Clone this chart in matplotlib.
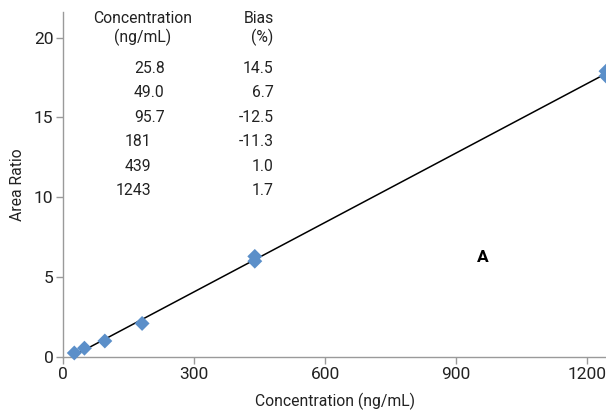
import numpy as np
import matplotlib
matplotlib.use('Agg')
import matplotlib.pyplot as plt

plt.rcParams['font.family'] = ['Roboto', 'DejaVu Sans']

# calibration points (duplicate injections at some levels)
conc = [25.8, 49.0, 95.7, 181, 439, 439, 1243, 1243]
area_ratio = [0.25, 0.55, 1.0, 2.1, 6.0, 6.3, 17.6, 17.9]

# table in upper left
tbl_conc = ['25.8', '49.0', '95.7', '181', '439', '1243']
tbl_bias = ['14.5', '6.7', '-12.5', '-11.3', '1.0', '1.7']

# fitted line
slope, intercept = np.polyfit(conc, area_ratio, 1)
xfit = np.array([min(conc), max(conc)])
yfit = slope * xfit + intercept

fig = plt.figure(figsize=(6.06, 4.18), dpi=100)
ax = fig.add_axes([0.104, 0.146, 0.896, 0.825])

ax.plot(xfit, yfit, color='black', lw=1.1, zorder=2)
ax.scatter(conc, area_ratio, marker='D', s=58, color='#5b8fc9', edgecolors='none', zorder=3, clip_on=False)

ax.set_xlim(0, 1243)
ax.set_ylim(0, 21.6)
ax.set_xticks([0, 300, 600, 900, 1200])
ax.set_yticks([0, 5, 10, 15, 20])
for s in ['top', 'right']:
    ax.spines[s].set_visible(False)
for s in ['left', 'bottom']:
    ax.spines[s].set_color('#9a9a9a')
    ax.spines[s].set_linewidth(1.0)
ax.tick_params(axis='both', color='#9a9a9a', length=5, width=1.0, labelsize=12.5, labelcolor='#222222', pad=2)
ax.set_xlabel('Concentration (ng/mL)', fontsize=11.3, color='#222222', labelpad=8)
ax.set_ylabel('Area Ratio', fontsize=11.3, color='#222222', labelpad=6)

# table
tkw = dict(fontsize=11.3, color='#222222', transform=ax.transData)
ax.text(182, 21.2, 'Concentration', ha='center', va='center', **tkw)
ax.text(182, 20.0, '(ng/mL)', ha='center', va='center', **tkw)
ax.text(482, 21.2, 'Bias', ha='right', va='center', **tkw)
ax.text(482, 20.0, '(%)', ha='right', va='center', **tkw)
rows_y = 18.06 - 1.525 * np.arange(len(tbl_conc))
for c, b, yy in zip(tbl_conc, tbl_bias, rows_y):
    xr = 233 if '.' in c else 202
    ax.text(xr, yy, c, ha='right', va='center', **tkw)
    ax.text(482, yy, b, ha='right', va='center', **tkw)

ax.text(961, 6.2, 'A', ha='center', va='center', fontsize=12.5, fontweight='bold', color='black')

fig.savefig('out.png', dpi=100)
